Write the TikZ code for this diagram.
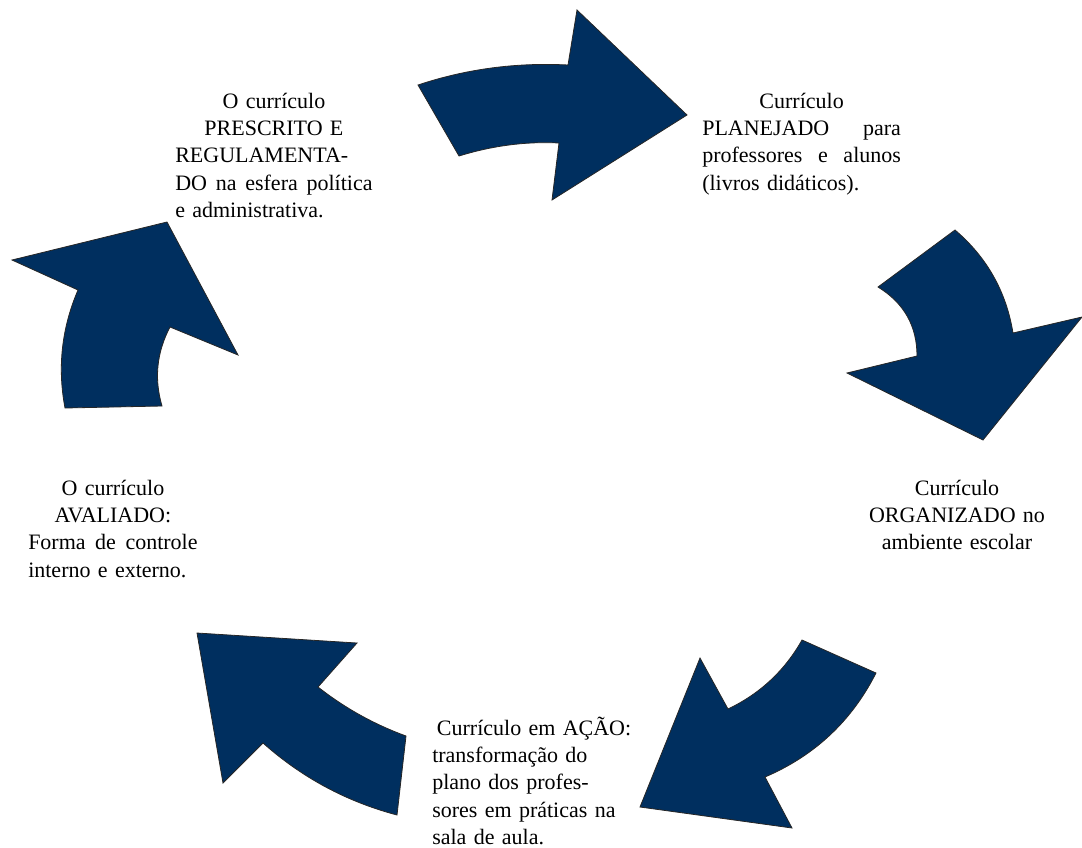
\documentclass[tikz,border=0pt]{standalone}
\usepackage{fontspec}
\setmainfont{Liberation Serif}
\usepackage{xcolor}
\definecolor{cyclenavy}{RGB}{0,47,95}

\begin{document}
\begin{tikzpicture}[
  x=0.75pt, y=-0.75pt,
  seta/.style={fill=cyclenavy, draw=black!85, line width=0.6pt, line join=miter},
  txt/.style={font=\fontsize{16.5}{20.5}\selectfont, inner sep=0pt, align=left}
]
  \useasboundingbox (0,0) rectangle (1082,847);

  \node[txt, text width=148pt, anchor=base west] (prescrito) at (175,108)
    {{\centering O currículo\\PRESCRITO E\par}REGULAMENTA-\\DO\hfill na\hfill esfera\hfill política\\e administrativa.};
  \node[txt, text width=149pt, anchor=base west] (planejado) at (702,108)
    {{\centering Currículo\par}PLANEJADO\hfill para\\professores\hfill e\hfill alunos\\(livros didáticos).};
  \node[txt, text width=143pt, align=center, anchor=base] (organizado) at (957,495)
    {Currículo\\ORGANIZADO no\\ambiente escolar};
  \node[txt, text width=155pt, anchor=base west] (acao) at (432,735)
    {\hspace*{3.5pt}Currículo em AÇÃO:\\transformação do\\plano dos profes-\\sores em práticas na\\sala de aula.};
  \node[txt, text width=127pt, anchor=base west] (avaliado) at (28,495)
    {{\centering O currículo\\AVALIADO:\par}Forma\hfill de\hfill controle\\interno e externo.};

  \draw[seta] (418,85) .. controls (466,69) and (516,62.3) .. (568,65) -- (577,10) -- (687,115)
    -- (552,200) -- (559,143) .. controls (525.7,141.3) and (492.3,145.7) .. (459,156) -- cycle;
  \draw[seta] (878,287) -- (955,230) .. controls (987,257.3) and (1006.3,291.7) .. (1013,333)
    -- (1082,317) -- (983,440) -- (847,373) -- (917,356)
    .. controls (917,326) and (904,303) .. (878,287) -- cycle;
  \draw[seta] (802,640) -- (876,673) .. controls (851.7,721) and (814.7,755.7) .. (765,777)
    -- (792,828) -- (640,807) -- (700,658) -- (728,709)
    .. controls (760,693.7) and (784.7,670.7) .. (802,640) -- cycle;
  \draw[seta] (406,736) -- (397,815) .. controls (346.7,801.7) and (302,777.7) .. (263,743)
    -- (223,783) -- (197,633) -- (357,643) -- (318,687)
    .. controls (344.7,708) and (374,724.3) .. (406,736) -- cycle;
  \draw[seta] (65,408) -- (162,406) .. controls (154,378.7) and (156.7,352.3) .. (170,327)
    -- (238,355) -- (167,222) -- (12,260) -- (78,290)
    .. controls (61.7,328) and (57.3,367.3) .. (65,408) -- cycle;
\end{tikzpicture}
\end{document}
